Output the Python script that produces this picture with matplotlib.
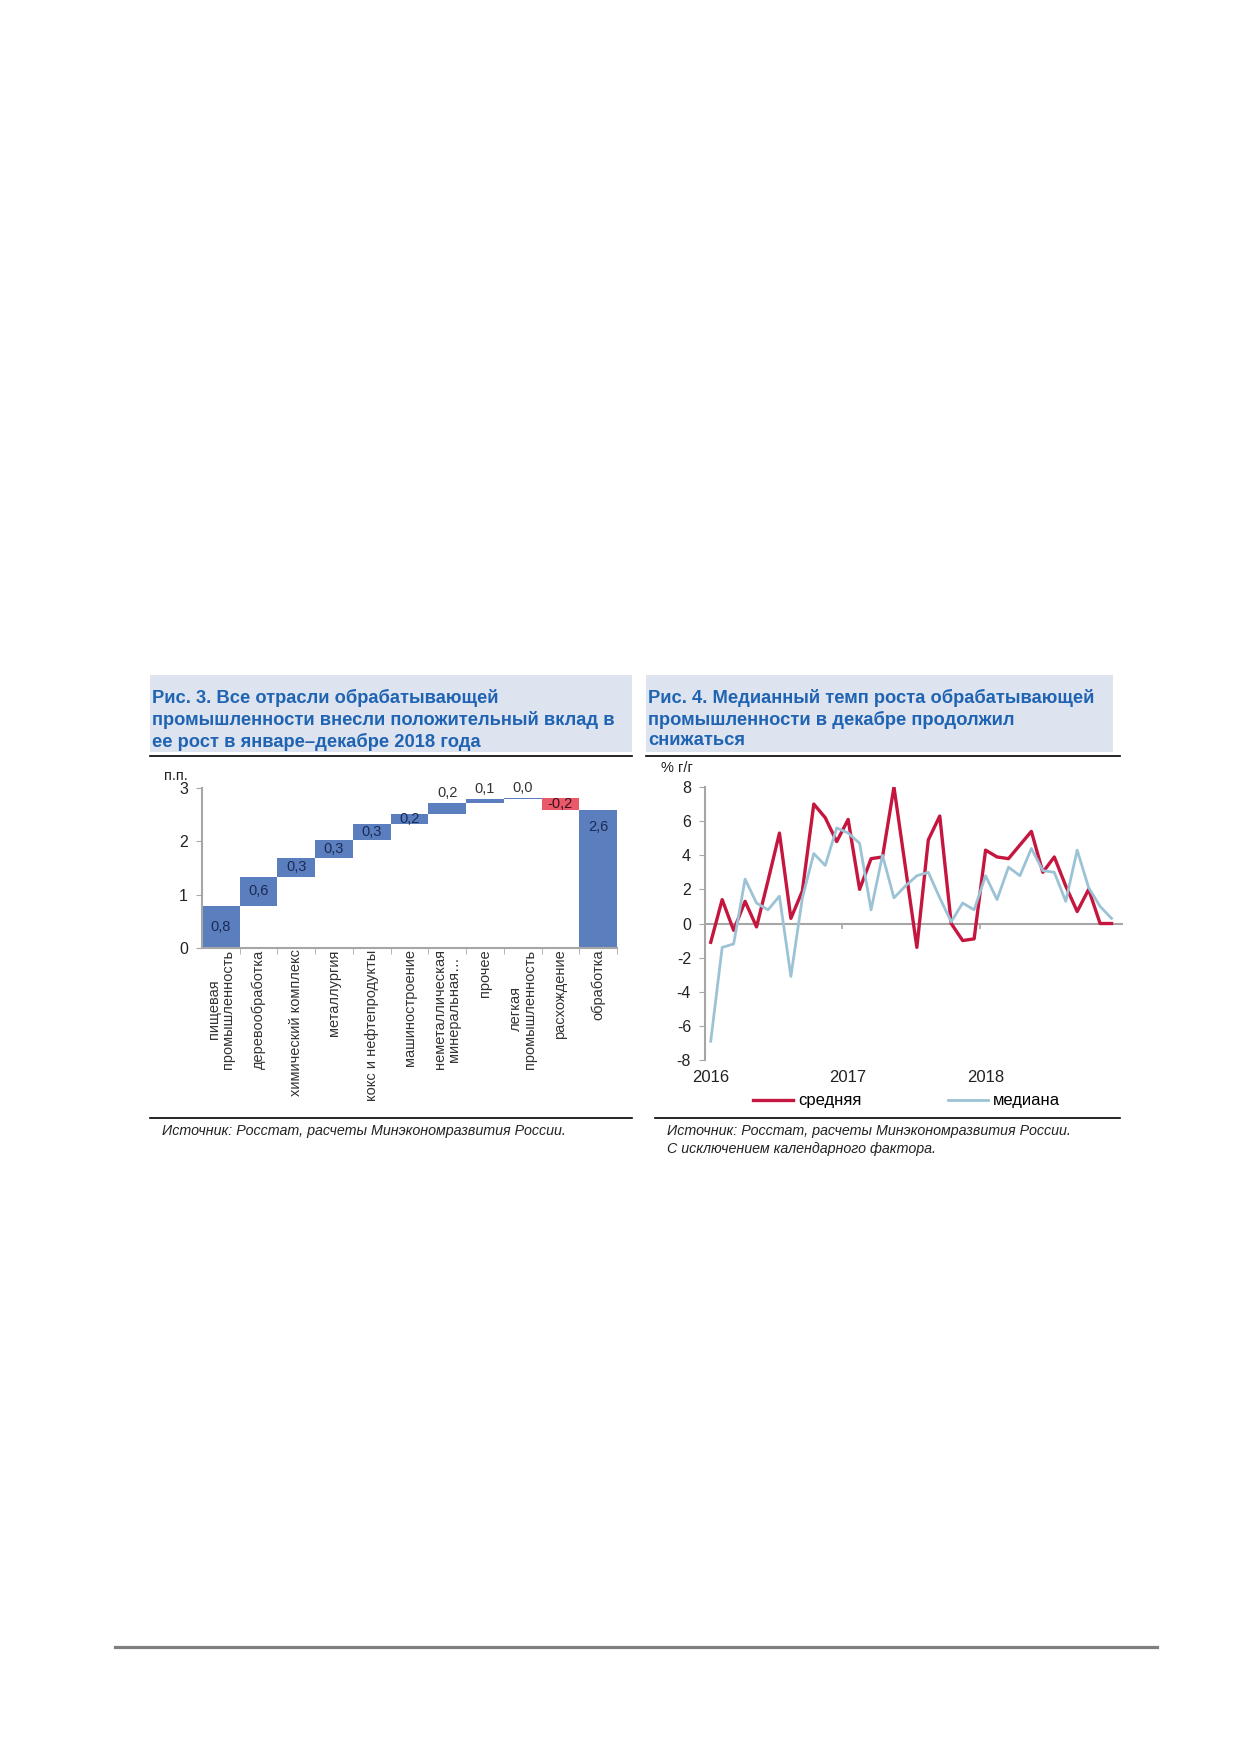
import numpy as np
import matplotlib.pyplot as plt
from matplotlib.patches import Rectangle
from matplotlib.lines import Line2D

plt.rcParams['font.family'] = ['Liberation Sans', 'DejaVu Sans']
plt.rcParams['axes.unicode_minus'] = False

# Рис. 3: вклад отраслей в рост обрабатывающей промышленности, п.п.
sectors = ['пищевая\nпромышленность', 'деревообработка', 'химический комплекс',
           'металлургия', 'кокс и нефтепродукты', 'машиностроение',
           'неметаллическая\nминеральная…', 'прочее', 'легкая\nпромышленность',
           'расхождение']
contrib = [0.78, 0.56, 0.34, 0.34, 0.31, 0.19, 0.20, 0.07, 0.03, -0.23]
total_name = 'обработка'

# Рис. 4: темп роста, % г/г, январь 2016 - декабрь 2018
mean_growth = [-1.1, 1.4, -0.4, 1.3, -0.2, 2.5, 5.3, 0.3, 1.9, 7.0, 6.2, 4.8,
               6.1, 2.0, 3.8, 3.9, 8.0, 3.3, -1.4, 4.9, 6.3, 0.0, -1.0, -0.9,
               4.3, 3.9, 3.8, 4.6, 5.4, 3.0, 3.9, 2.2, 0.7, 2.0, 0.0, 0.0]
median_growth = [-6.9, -1.4, -1.2, 2.6, 1.2, 0.8, 1.6, -3.1, 1.5, 4.1, 3.4, 5.6,
                 5.3, 4.7, 0.8, 4.0, 1.5, 2.2, 2.8, 3.0, 1.5, 0.1, 1.2, 0.8,
                 2.8, 1.4, 3.3, 2.8, 4.4, 3.1, 3.0, 1.3, 4.3, 2.1, 1.0, 0.3]
years = ['2016', '2017', '2018']

W, H = 1239, 1752
BLUE_BAR = '#5B7FBE'
RED_BAR = '#E9596A'
TITLE_BLUE = '#1F63B2'
TITLE_BG = '#DDE4EF'
GREY = '#A6A6A6'


def fx(px):
    return px / W


def fy(py):
    return 1 - py / H


def comma(v):
    return f'{v:.1f}'.replace('.', ',')


fig = plt.figure(figsize=(W / 100, H / 100), dpi=100)
fig.patch.set_facecolor('white')

# заголовки, линии и подписи источников
for x0, x1, lx1, title in [
        (150, 632, 632, 'Рис. 3. Все отрасли обрабатывающей\nпромышленности внесли положительный вклад в\nее рост в январе–декабре 2018 года'),
        (646, 1113, 1120, 'Рис. 4. Медианный темп роста обрабатывающей\nпромышленности в декабре продолжил\nснижаться')]:
    fig.add_artist(Rectangle((fx(x0), fy(752)), fx(x1 - x0), 77 / H,
                             transform=fig.transFigure, facecolor=TITLE_BG,
                             edgecolor='none', zorder=0))
    fig.add_artist(Line2D([fx(x0), fx(lx1)], [fy(756), fy(756)],
                          transform=fig.transFigure, color='black', lw=1.2))
    fig.text(fx(x0 + 2), fy(689), title, ha='left', va='top', fontsize=13.2,
             fontweight='bold', color=TITLE_BLUE, linespacing=1.27)

fig.add_artist(Line2D([fx(150), fx(632)], [fy(1118), fy(1118)],
                      transform=fig.transFigure, color='black', lw=1.2))
fig.add_artist(Line2D([fx(655), fx(1120)], [fy(1118), fy(1118)],
                      transform=fig.transFigure, color='black', lw=1.2))
fig.text(fx(162), fy(1131), 'Источник: Росстат, расчеты Минэкономразвития России.',
         ha='left', va='center', fontsize=10.3, style='italic', color='#222222')
fig.text(fx(667), fy(1131), 'Источник: Росстат, расчеты Минэкономразвития России.',
         ha='left', va='center', fontsize=10.3, style='italic', color='#222222')
fig.text(fx(667), fy(1149), 'С исключением календарного фактора.',
         ha='left', va='center', fontsize=10.3, style='italic', color='#222222')
fig.add_artist(Line2D([fx(115), fx(1157)], [fy(1647), fy(1647)],
                      transform=fig.transFigure, color='#7F7F7F', lw=2.3))

# ---- Рис. 3: водопад ----
ax1 = fig.add_axes([fx(202), fy(948), fx(617 - 202), 160 / H])
vals = np.array(contrib)
ends = np.cumsum(vals)
starts = ends - vals
total = ends[-1]
n = len(vals)
xs = np.arange(n + 1)

bottoms = np.append(np.minimum(starts, ends), 0)
heights = np.append(np.abs(vals), total)
colors = [RED_BAR if v < 0 else BLUE_BAR for v in vals] + [BLUE_BAR]
ax1.bar(xs, heights, bottom=bottoms, width=1.0, color=colors, edgecolor='none')

above = {6, 7, 8}
for i in range(n):
    lbl = comma(vals[i])
    top = bottoms[i] + heights[i]
    if i in above:
        ax1.annotate(lbl, (xs[i], top), xytext=(0, 2), textcoords='offset points',
                     ha='center', va='bottom', fontsize=10.5, color='#333333')
    else:
        ax1.text(xs[i], bottoms[i] + heights[i] / 2, lbl, ha='center', va='center',
                 fontsize=10.5, color='#1B2A55' if vals[i] >= 0 else '#3B1020')
ax1.annotate(comma(total), (xs[-1], total), xytext=(0, -12), textcoords='offset points',
             ha='center', va='center', fontsize=10.5, color='#1B2A55')

ax1.set_xlim(-0.5, n + 0.5)
ax1.set_ylim(0, 3)
ax1.set_yticks([0, 1, 2, 3])
ax1.set_xticks(xs, sectors + [total_name], rotation=90, ha='center', va='top',
               multialignment='center', fontsize=10.5, color='#333333',
               linespacing=1.0)
ax1.set_xticks(np.arange(n + 1) + 0.5, minor=True)
ax1.tick_params(axis='x', which='major', length=0, pad=1)
ax1.tick_params(axis='x', which='minor', length=4, color=GREY)
ax1.tick_params(axis='y', length=4, color=GREY, labelsize=11.5, pad=6, labelcolor='#222222')
for s in ['top', 'right']:
    ax1.spines[s].set_visible(False)
for s in ['left', 'bottom']:
    ax1.spines[s].set_color(GREY)
    ax1.spines[s].set_linewidth(1.5)
ax1.text(-0.035, 1.03, 'п.п.', transform=ax1.transAxes, ha='right', va='bottom',
         fontsize=10.5, color='#222222')

# ---- Рис. 4: средняя и медиана ----
ax2 = fig.add_axes([fx(705), fy(1060), fx(1123 - 705), 273 / H])
months = np.arange(len(mean_growth))
l_mean, = ax2.plot(months, mean_growth, color='#C4163F', lw=2.4, label='средняя', zorder=3)
l_med, = ax2.plot(months, median_growth, color='#9CC3D5', lw=2.0, label='медиана', zorder=4)
ax2.axhline(0, color=GREY, lw=1.5, zorder=2)
year_pos = months[::12]
ax2.vlines(year_pos[1:] - 0.5, -0.35, 0, color=GREY, lw=1.2, zorder=2)

ax2.set_xlim(-0.5, len(months))
ax2.set_ylim(-8, 8)
ax2.set_yticks(np.arange(-8, 9, 2))
ax2.set_xticks(year_pos, years)
ax2.tick_params(axis='x', length=0, pad=7, labelsize=12, labelcolor='#222222')
ax2.tick_params(axis='y', length=4, color=GREY, labelsize=11.5, pad=6, labelcolor='#222222')
for s in ['top', 'right', 'bottom']:
    ax2.spines[s].set_visible(False)
ax2.spines['left'].set_color(GREY)
ax2.spines['left'].set_linewidth(1.5)
ax2.text(-0.03, 1.045, '% г/г', transform=ax2.transAxes, ha='right', va='bottom',
         fontsize=10.5, color='#222222')

fig.legend(handles=[l_mean, l_med], loc='center left', bbox_to_anchor=(fx(753), fy(1101)),
           ncol=2, frameon=False, borderpad=0, borderaxespad=0, handlelength=2.4,
           handletextpad=0.3, columnspacing=5.2, fontsize=12)

fig.savefig('out.png', dpi=100, facecolor='white')
